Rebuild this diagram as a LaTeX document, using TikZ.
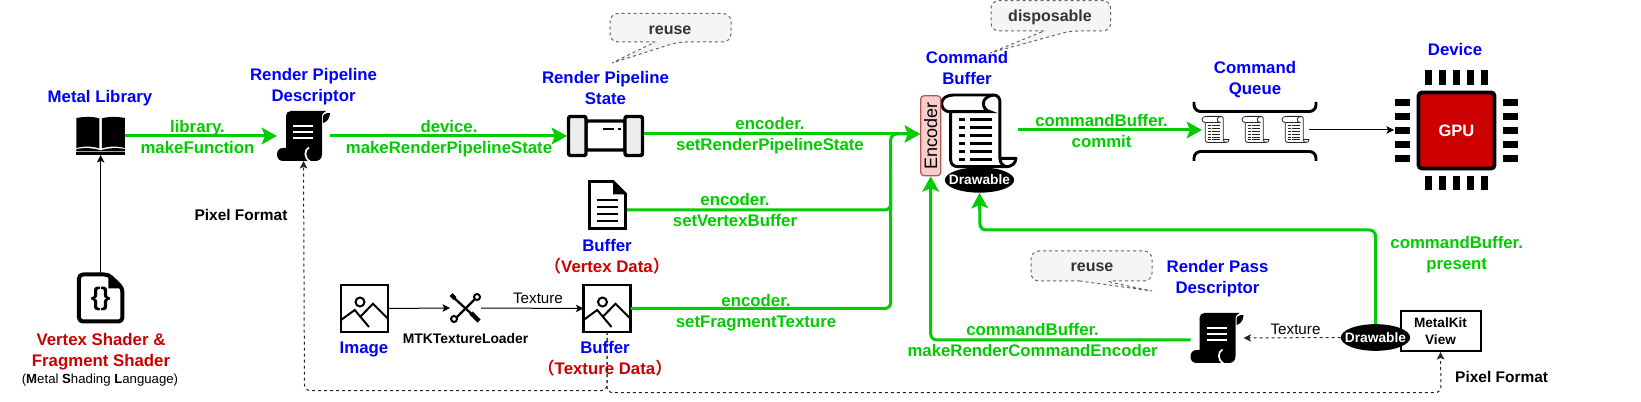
\documentclass[tikz,border=0pt]{standalone}
\usepackage{fontspec}
\setmainfont{Liberation Sans}
\newfontfamily\cjk{Noto Sans CJK SC}[BoldFont={* Bold}]
\usetikzlibrary{arrows.meta,shapes.geometric,calc}
\definecolor{gr}{HTML}{00CC00}
\definecolor{bl}{HTML}{0000FF}
\definecolor{rd}{HTML}{CC0000}
\newcommand\lp{{\cjk\bfseries （}}
\newcommand\rp{{\cjk\bfseries ）}}
\tikzset{
  iconbox/.style 2 args={minimum width=#1*.75pt,minimum height=#2*.75pt,inner sep=0pt,outer sep=0pt},
  struts/.style={execute at begin node=\strut,execute at end node=\strut},
  bigtxt/.style={font=\bfseries\fontsize{12.6pt}{15.75pt}\selectfont,align=center,inner sep=0pt,struts,yshift=-2.4pt},
  bluetxt/.style={bigtxt,text=bl},
  greentxt/.style={bigtxt,text=gr},
  redtxt/.style={bigtxt,text=rd},
  blacktxt/.style={font=\bfseries\fontsize{11.6pt}{14pt}\selectfont,align=center,inner sep=0pt,struts,yshift=-1.5pt},
  thintxt/.style={font=\fontsize{11.4pt}{14pt}\selectfont,inner sep=0pt,struts,yshift=-1.5pt},
  bubbletxt/.style={font=\bfseries\fontsize{12pt}{14pt}\selectfont,text=black!80,inner sep=0pt,struts,yshift=-2.25pt},
  bubble/.style={draw=black!60,fill=black!4,line width=.75pt,dash pattern=on 2.25pt off 2.25pt},
  greenline/.style={draw=gr,line width=2.25pt,rounded corners=4.5pt},
  greenarrow/.style={greenline,-{Stealth[length=11.5pt,width=12.5pt,inset=2.5pt]}},
  thinarrow/.style={draw=black,line width=.75pt,-{Stealth[length=5.6pt,width=5.6pt,inset=1.2pt]}},
  dashline/.style={draw=black!85,line width=.75pt,dash pattern=on 2.25pt off 2.25pt,rounded corners=4.5pt},
  dasharrow/.style={dashline,-{Stealth[length=5.6pt,width=5.6pt,inset=1.2pt]}},
  blackscroll/.pic={
    \fill[black] (9,5) .. controls (9,2) and (11,0) .. (14,0) -- (49,0)
      .. controls (46,1) and (45,3) .. (45,7) -- (45,43)
      .. controls (45,48) and (42,50) .. (38,50) -- (6,50)
      .. controls (2,50) and (0,47) .. (0,43.5) .. controls (0,40) and (2,37) .. (6,37) -- (9,37) -- cycle;
    \fill[black] (53,2) .. controls (53,7) and (50,11) .. (46,12) -- (46,6) .. controls (46,3) and (49,2) .. (53,2) -- cycle;
    \draw[white,line width=1.3pt] (32,36.5) .. controls (27,39) and (27,47) .. (33,50.5);
    \draw[white,line width=1.6pt] (16,15)--(36,15) (16,21)--(36,21) (16,27)--(36,27);
  },
  cmdscroll/.pic={
    \draw[fill=white,line join=round]
      (11.7,1) -- (51.7,1) .. controls (56,1) and (58.3,4) .. (58.3,8) -- (58.3,64.3) -- (74.3,64.3)
      .. controls (74.3,69) and (70,72.7) .. (65,72.7) -- (16.7,72.7)
      .. controls (12,72.7) and (9,70) .. (9,66) -- (9,17.7) -- (8,17.7)
      .. controls (3,17.7) and (0,14) .. (0,9.3) .. controls (0,4.5) and (5,1) .. (11.7,1) -- cycle;
    \draw (9,17.7) -- (48.3,17.7) .. controls (44,17) and (41.7,13) .. (41.7,9.3) .. controls (41.7,5) and (46,2) .. (51.7,1);
    \draw (58.3,64.3) .. controls (58.3,69) and (61,72) .. (65,72.7);
    \foreach \r in {25.3,33.3,41.3,49.3,57.3,65.3}{\draw (17.3,\r)--(23.3,\r) (28.3,\r)--(50,\r);}
  },
  picture icon/.pic={
    \draw[line width=1.9pt,fill=white] (0,0) rectangle (47,47);
    \draw[line width=1.5pt] (19,17) circle[radius=4.5];
    \draw[line width=1.5pt] (0,35) -- (13.7,25) -- (28,42) (20,31) -- (32,18.7) -- (47,33.7);
  },
  wrench icon/.pic={
    \draw[line width=1.7pt] (3,4) -- (26,25);
    \draw[line width=3pt] (1,1.5) -- (5,5.5);
    \draw[line width=3.4pt] (21,20) -- (29,28);
    \draw[line width=1.7pt] (25,6) -- (6,25);
    \draw[line width=1.5pt,fill=white] (27,4) circle[radius=3] (4,26) circle[radius=3];
  },
}
\begin{document}
\begin{tikzpicture}[x=.75pt,y=-.75pt]
\useasboundingbox[fill=white] (0,0) rectangle (1641,402);

% --- icons as named boxes
\node[iconbox={48.5}{38}] (book) at (100.7,136) {};
\node[iconbox={53}{50}] (rpd) at (303.5,136) {};
\node[iconbox={77}{42}] (state) at (605.5,136) {};
\node[iconbox={46.5}{50}] (shader) at (100.7,298) {};
\node[iconbox={39}{50}] (vbuf) at (607.5,205) {};
\node[iconbox={47}{47}] (image) at (364.5,308.5) {};
\node[iconbox={31}{30}] (tool) at (465.5,308) {};
\node[iconbox={47}{47}] (tbuf) at (607,308.5) {};
\node[iconbox={74.3}{74}] (cmdbuf) at (978.8,131) {};
\node[iconbox={53}{50}] (passd) at (1217,338) {};
\node[iconbox={115}{30}] (queue) at (1255.5,131) {};
\node[iconbox={122}{59}] (bracket) at (1255,131.5) {};
\node[iconbox={79}{79}] (gpuchip) at (1456.5,130.5) {};

% book
\begin{scope}[shift={(book.north west)}]
  \fill (0,1) .. controls (8,-.5) and (18,-.5) .. (23,1.5) -- (23,31.5) .. controls (16,29) and (7,29) .. (0,31) -- cycle;
  \fill (48.5,1) .. controls (40.5,-.5) and (30.5,-.5) .. (25.3,1.5) -- (25.3,31.5) .. controls (32.5,29) and (41.5,29) .. (48.5,31) -- cycle;
  \fill (0,32) -- (0,34.5) -- (48.5,34.5) -- (48.5,32) .. controls (41,30.5) and (30,31) .. (24.2,33.5) .. controls (18,31) and (8,30.5) .. (0,32) -- cycle;
  \fill (0,35.3) rectangle (48.5,38);
\end{scope}
\pic at (rpd.north west) {blackscroll};
\pic at (passd.north west) {blackscroll};

% pipeline state
\begin{scope}[shift={(state.north west)},line width=2.6pt,line join=round,rounded corners=1.5pt]
  \draw[fill=white] (19,6) rectangle (58,35);
  \draw[fill=black!7] (1.5,1.5) rectangle (19,40.5);
  \draw[fill=black!7] (58,1.5) rectangle (75.5,40.5);
  \draw[line width=2.2pt,sharp corners] (36,14) -- (47,14) (51,14) -- (54,14);
\end{scope}

% shader file
\begin{scope}[shift={(shader.north west)}]
  \draw[line width=3pt,fill=white,line join=round,rounded corners=3pt] (1.5,1.5) -- (31,1.5) -- (45,15) -- (45,48.5) -- (1.5,48.5) -- cycle;
  \fill (31,0) -- (46.5,15.5) -- (31,15.5) -- cycle;
\end{scope}
\node[font=\bfseries\fontsize{19pt}{20pt}\selectfont,inner sep=0pt] (braces) at (100.7,299) {\{\}};

% vertex doc
\begin{scope}[shift={(vbuf.north west)}]
  \draw[line width=2.2pt,fill=white,line join=miter] (1.5,1.5) -- (25,1.5) -- (37.5,14) -- (37.5,48.5) -- (1.5,48.5) -- cycle;
  \fill (25,.5) -- (38.5,14.5) -- (25,14.5) -- cycle;
  \draw[line width=1.9pt] (9,20)--(30,20) (9,27)--(30,27) (9,34)--(30,34) (9,41)--(30,41);
\end{scope}

\pic at (image.north west) {picture icon};
\pic at (tbuf.north west) {picture icon};
\pic at (tool.north west) {wrench icon};

% command buffer
\pic[line width=2.2pt] at (cmdbuf.north west) {cmdscroll};

% command queue
\coordinate (q1) at (1202,116);
\coordinate (q2) at (1242,116);
\coordinate (q3) at (1282,116);
\pic[scale=.365,line width=.6pt,draw=black!85] at (q1) {cmdscroll};
\pic[scale=.365,line width=.6pt,draw=black!85] at (q2) {cmdscroll};
\pic[scale=.365,line width=.6pt,draw=black!85] at (q3) {cmdscroll};
\draw[line width=2.2pt,rounded corners=5pt] (bracket.north west) -- ($(bracket.north west)+(0,9.5)$) -- ($(bracket.north east)+(0,9.5)$) -- (bracket.north east);
\draw[line width=2.2pt,rounded corners=5pt] (bracket.south west) -- ($(bracket.south west)+(0,-9.5)$) -- ($(bracket.south east)+(0,-9.5)$) -- (bracket.south east);

% GPU
\foreach \t in {-28,-14,0,14,28}{
  \fill ($(gpuchip.center)+(\t-3.5,-60)$) rectangle +(7,14.5);
  \fill ($(gpuchip.center)+(\t-3.5,45.3)$) rectangle +(7,14.5);
  \fill ($(gpuchip.center)+(-61.5,\t-3.5)$) rectangle +(15,7);
  \fill ($(gpuchip.center)+(46,\t-3.5)$) rectangle +(15,7);
}
\node[draw=black,fill=rd,line width=2.8pt,rounded corners=2.5pt,minimum width=57pt,minimum height=57pt,inner sep=0pt,text=white,font=\bfseries\fontsize{12.4pt}{14pt}\selectfont] (gpu) at (gpuchip.center) {GPU};

% encoder, view, ellipses
\node[draw={rgb,255:red,184;green,84;blue,80},fill={rgb,255:red,248;green,206;blue,204},line width=.9pt,rounded corners=2.5pt,minimum width=60pt,minimum height=15pt,inner sep=0pt,rotate=90,font=\fontsize{13.5pt}{14pt}\selectfont] (encoder) at (930.7,135.7) {Encoder};
\node[draw=black,fill=white,line width=1.5pt,minimum width=60pt,minimum height=30pt,inner sep=0pt,align=center,font=\bfseries\fontsize{10.2pt}{12.8pt}\selectfont] (view) at (1440.5,331) {MetalKit\\View};
\node[ellipse,fill=black,minimum width=52pt,minimum height=19pt,inner xsep=-5pt,inner ysep=-3pt,text=white,font=\bfseries\fontsize{10.3pt}{12pt}\selectfont] (draw1) at (979.5,180) {Drawable};
\node[ellipse,fill=black,minimum width=52pt,minimum height=20pt,inner xsep=-5pt,inner ysep=-3pt,text=white,font=\bfseries\fontsize{10.3pt}{12pt}\selectfont] (draw2) at (1375.5,337.5) {Drawable};

% bubbles
\draw[bubble] (655,42) [rounded corners=6pt] -- (610,42) -- (610,13.5) -- (731,13.5) -- (731,42) -- (678,42) [sharp corners] -- (612,63) -- cycle;
\draw[bubble] (1044,31) [rounded corners=6pt] -- (991,31) -- (991,.6) -- (1110.7,.6) -- (1110.7,31) -- (1070,31) [sharp corners] -- (990,53) -- cycle;
\draw[bubble] (1080,281) [rounded corners=6pt] -- (1031,281) -- (1031,251) -- (1152,251) -- (1152,281) -- (1105,281) [sharp corners] -- (1152,291) -- cycle;
\node[bubbletxt] (reuseA) at (670,28) {reuse};
\node[bubbletxt] (dispo) at (1050,15) {disposable};
\node[bubbletxt] (reuseB) at (1092,265) {reuse};

% blue titles
\node[bluetxt] (tLib) at (100,95) {Metal Library};
\node[bluetxt] (tRpd) at (313.6,85) {Render Pipeline\\Descriptor};
\node[bluetxt] (tState) at (605.5,88) {Render Pipeline\\State};
\node[bluetxt] (tCmd) at (967,67.5) {Command\\Buffer};
\node[bluetxt] (tQueue) at (1255,77.5) {Command\\Queue};
\node[bluetxt] (tDev) at (1455,48.5) {Device};
\node[bluetxt] (tImg) at (364,346) {Image};
\node[bluetxt] (tPass) at (1217.5,276.5) {Render Pass\\Descriptor};
\node[bigtxt] (tVb) at (607,255.5) {\textcolor{bl}{Buffer}\\\textcolor{rd}{\lp Vertex Data\rp}};
\node[bigtxt] (tTb) at (605,358) {\textcolor{bl}{Buffer}\\\textcolor{rd}{\lp Texture Data\rp}};
\node[redtxt] (tShader) at (101,350) {Vertex Shader \&\\Fragment Shader};
\node[font=\fontsize{9.9pt}{12pt}\selectfont,inner sep=0pt,struts,yshift=-.8pt] (tMsl) at (100,379) {(\textbf{M}etal \textbf{S}hading \textbf{L}anguage)};
\node[blacktxt,font=\bfseries\fontsize{10.4pt}{14pt}\selectfont] (tLoader) at (465.6,338) {MTKTextureLoader};
\node[blacktxt] (tPf1) at (241,215) {Pixel Format};
\node[blacktxt] (tPf2) at (1501.6,376.7) {Pixel Format};
\node[thintxt] (tTex1) at (538,298) {Texture};
\node[thintxt] (tTex2) at (1295.5,329) {Texture};

% green labels
\node[greentxt] (lLib) at (197.5,136.5) {library.\\makeFunction};
\node[greentxt] (lDev) at (449,136.5) {device.\\makeRenderPipelineState};
\node[greentxt] (lSet) at (770,133.5) {encoder.\\setRenderPipelineState};
\node[greentxt] (lVtx) at (735,209.5) {encoder.\\setVertexBuffer};
\node[greentxt] (lFrag) at (756,310.5) {encoder.\\setFragmentTexture};
\node[greentxt] (lCommit) at (1101.6,130.5) {commandBuffer.\\commit};
\node[greentxt] (lPres) at (1456.7,253.2) {commandBuffer.\\present};
\node[greentxt] (lEnc) at (1032.6,340.3) {commandBuffer.\\makeRenderCommandEncoder};

% connectors
\coordinate (encIn) at (encoder.north |- 0,134);
\coordinate (mergeTop) at (890.7,134);
\coordinate (mergeBot) at (890.7,308.5);
\coordinate (mergeMid) at (890.7,210);
\coordinate (presentTop) at (980,230);
\coordinate (encBot) at (930.7,340);
\coordinate (pfA) at (304.5,390.7);
\coordinate (pfB) at (1441,392.7);
\coordinate (commitStart) at (1018,130);
\coordinate (queueOut) at (1309,130);
\coordinate (gpuPin) at (1394,130);

\draw[greenarrow] (book.east) -- (rpd.west);
\draw[greenarrow] (rpd.east) -- (state.west);
\draw[greenarrow] (state.east |- encIn) -- (encIn);
\draw[greenline] (vbuf.east |- mergeMid) -- (mergeMid) -- (890.7,170);
\draw[greenarrow] (tbuf.east) -- (mergeBot) -- (mergeTop) -- (encIn);
\draw[greenarrow] (commitStart) -- (q1 |- commitStart);
\draw[greenarrow] (draw2.north) -- (draw2.north |- presentTop) -- (presentTop) -- (draw1.south);
\draw[greenarrow] (passd.west |- encBot) -- (encBot) -- (encoder.west);

\draw[thinarrow] (shader.north) -- (book.south);
\draw[thinarrow] (image.east) -- (tool.west);
\draw[thinarrow] (tool.east) -- (tbuf.west);
\draw[thinarrow] (queueOut) -- (gpuPin);
\draw[dasharrow] (draw2.west) -- (passd.east);
\draw[dasharrow] (tbuf.south) -- (tbuf.south |- pfA) -- (pfA) -- (rpd.south);
\draw[dasharrow] (tbuf.south) -- (tbuf.south |- pfB) -- (pfB) -- (view.south);
\end{tikzpicture}
\end{document}
